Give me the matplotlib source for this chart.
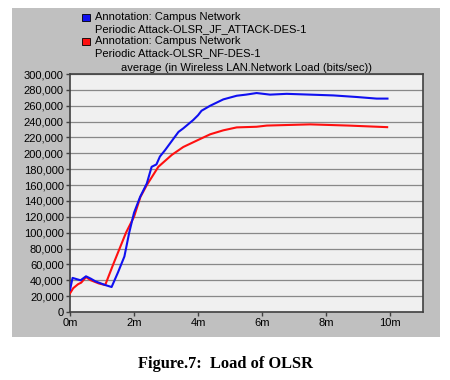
import matplotlib
matplotlib.use("Agg")
import matplotlib.pyplot as plt
from matplotlib.patches import Rectangle
from matplotlib.ticker import FuncFormatter

# time in minutes, load in bits/sec
t_jf = [0.0, 0.08, 0.2, 0.33, 0.5, 0.65, 0.8, 1.0, 1.1, 1.3, 1.5, 1.7, 1.85, 2.0, 2.19,
        2.4, 2.55, 2.7, 2.81, 2.97, 3.28, 3.39, 3.54, 3.85, 4.0, 4.11, 4.38, 4.79,
        5.21, 5.5, 5.83, 6.25, 6.77, 7.5, 8.23, 8.96, 9.58, 9.92]
load_jf = [27700, 43000, 41500, 40000, 45000, 42000, 38500, 35500, 34000, 31500, 50000,
           70000, 100000, 125000, 145000, 162000, 183000, 186000, 196000, 204000, 221000,
           227000, 231500, 242000, 248000, 253700, 260000, 268000, 272600, 274000, 276000,
           274000, 275000, 274000, 273000, 271000, 269000, 269000]

t_nf = [0.0, 0.1, 0.25, 0.35, 0.5, 0.65, 0.9, 1.1, 1.35, 1.55, 1.75, 2.0, 2.2, 2.4,
        2.76, 3.18, 3.54, 4.01, 4.38, 4.79, 5.21, 5.83, 6.15, 7.5, 8.7, 9.91]
load_nf = [23500, 30000, 35000, 37000, 44000, 40000, 36000, 34000, 60000, 80000, 100000,
           120000, 145000, 160000, 183000, 198000, 208000, 217000, 224000, 229000, 232700,
           233500, 235000, 236500, 235000, 233000]

legend_lines = ["Annotation: Campus Network", "Periodic Attack-OLSR_JF_ATTACK-DES-1",
                "Annotation: Campus Network", "Periodic Attack-OLSR_NF-DES-1"]
x_ticks = [0, 2, 4, 6, 8, 10]
y_ticks = list(range(0, 300001, 20000))

plt.rcParams["font.family"] = ["Liberation Sans", "DejaVu Sans"]
fig = plt.figure(figsize=(4.5, 3.8), dpi=100)

# grey panel behind the chart
fig.patches.append(Rectangle((12 / 450, 1 - 337 / 380), 428 / 450, 329 / 380,
                             transform=fig.transFigure, facecolor="#c0c0c0",
                             edgecolor="none", zorder=-5))

ax = fig.add_axes([70 / 450, 1 - 312 / 380, 353 / 450, 238 / 380])
ax.set_facecolor("#f0f0f0")
ax.plot(t_nf, load_nf, color="#ff1010", lw=1.5, zorder=3)
ax.plot(t_jf, load_jf, color="#1010f0", lw=1.5, zorder=4)

ax.set_xlim(0, 11.03)
ax.set_ylim(0, 300000)
ax.set_xticks(x_ticks)
ax.set_xticklabels(["%dm" % v for v in x_ticks])
ax.set_yticks(y_ticks)
ax.yaxis.set_major_formatter(FuncFormatter(lambda v, p: "{:,}".format(int(v))))
ax.tick_params(labelsize=8, length=3, width=1, color="#404040", pad=1.5)
ax.grid(axis="y", color="#888888", lw=0.9)
ax.set_axisbelow(True)
for s in ax.spines.values():
    s.set_color("#404040")
    s.set_linewidth(1.2)

ax.set_title("average (in Wireless LAN.Network Load (bits/sec))", fontsize=8, pad=2)

# legend block at top left of the panel
colors = ["#1010f0", None, "#ff1010", None]
for i, (txt, c) in enumerate(zip(legend_lines, colors)):
    y = 1 - (17 + 12 * i) / 380
    fig.text(95 / 450, y, txt, fontsize=8, va="center", ha="left")
    if c:
        fig.patches.append(Rectangle((82 / 450, y - 3.5 / 380), 8 / 450, 7 / 380,
                                     transform=fig.transFigure, facecolor=c,
                                     edgecolor="black", lw=0.6, zorder=2))

fig.text(0.502, 1 - 364 / 380, "Figure.7:  Load of OLSR", fontsize=11.8,
         fontweight="bold", family="Liberation Serif", ha="center", va="center")

fig.savefig("out.png", dpi=100)
